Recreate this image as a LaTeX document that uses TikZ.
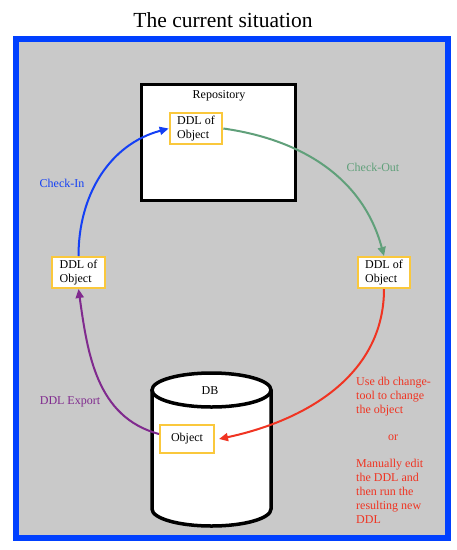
\documentclass[tikz,border=0pt]{standalone}
\usepackage{fontspec}
\setmainfont{Liberation Serif}
\usetikzlibrary{arrows.meta,positioning}
\definecolor{frame-blue}{RGB}{0,64,255}
\definecolor{panel-gray}{RGB}{201,201,201}
\definecolor{box-yellow}{RGB}{250,200,60}
\definecolor{checkin-blue}{RGB}{20,64,245}
\definecolor{checkout-green}{RGB}{96,160,122}
\definecolor{edit-red}{RGB}{240,52,34}
\definecolor{export-purple}{RGB}{128,42,142}

\begin{document}
\begin{tikzpicture}[
    x=1pt, y=1pt,
    ddl/.style = {rectangle, draw=box-yellow, line width=2pt, fill=white,
                  align=left, inner xsep=7.5pt, inner ysep=3pt,
                  font=\fontsize{12}{14}\selectfont},
    flow/.style = {-{Triangle[length=9pt,width=8pt]}, line width=2pt},
    txt/.style = {font=\fontsize{12}{14}\selectfont, inner sep=0pt}
  ]
    \useasboundingbox (0,0) rectangle (457,-550);

    %% ---- Title and frame ----
    \node[font=\fontsize{21.5}{24}\selectfont] (title) at (223,-20)
      {The current situation};
    \draw[frame-blue, line width=6pt, fill=panel-gray]
      (16,-39) rectangle (448,-538);

    %% ---- Repository (top) ----
    \node[rectangle, draw, line width=3.5pt, fill=white,
          minimum width=154, minimum height=116] (repo) at (218.5,-142.5) {};
    \node[txt] (repolab) at (219,-96) {Repository};
    \node[ddl] (ddlT) at (196,-128.5) {DDL of\\Object};

    %% ---- DDL copies on the left and right ----
    \node[ddl] (ddlL) at (78.5,-272.5) {DDL of\\Object};
    \node[ddl] (ddlR) at (384,-272.5) {DDL of\\Object};

    %% ---- DB cylinder (bottom) ----
    \draw[line width=3.5pt, fill=white]
      (152,-390) -- (152,-509) arc[start angle=180, end angle=360,
      x radius=59.5, y radius=17] -- (271,-390);
    \draw[line width=3.5pt, fill=white]
      (211.5,-390) ellipse[x radius=59.5, y radius=17];
    \node[txt] (dblab) at (210,-391) {DB};
    \node[ddl, align=center, minimum width=54, minimum height=28,
          inner xsep=4pt] (obj) at (187,-439) {Object};

    %% ---- Cycle of arrows ----
    \draw[flow, checkin-blue] (ddlL.north) to[out=90, in=195] (ddlT.west);
    \node[txt, text=checkin-blue] (checkin) at (62,-183) {Check-In};

    \draw[flow, checkout-green] (ddlT.east) to[out=-8, in=105] (ddlR.north);
    \node[txt, text=checkout-green] (checkout) at (373,-167) {Check-Out};

    \draw[flow, edit-red] (ddlR.south) to[out=270, in=12] ([xshift=4pt]obj.east);
    \node[txt, text=edit-red, align=left, anchor=north west] (usetool)
      at (356,-377) {Use db change-\\tool to change\\the object};
    \node[txt, text=edit-red] (orlab) at (393,-438) {or};
    \node[txt, text=edit-red, align=left, anchor=north west] (manual)
      at (356,-459) {Manually edit\\the DDL and\\then run the\\resulting new\\DDL};

    \draw[flow, export-purple] ([yshift=5pt]obj.west) to[out=165, in=278] (ddlL.south);
    \node[txt, text=export-purple] (export) at (70,-402) {DDL Export};

  \end{tikzpicture}
\end{document}
